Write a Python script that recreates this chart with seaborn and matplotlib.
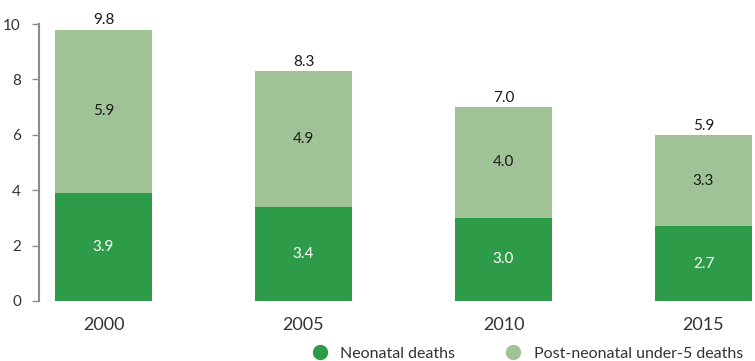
import matplotlib
matplotlib.use('Agg')
import matplotlib.pyplot as plt
import seaborn as sns
import pandas as pd
from matplotlib.lines import Line2D

years = ['2000', '2005', '2010', '2015']
neonatal = [3.9, 3.4, 3.0, 2.7]
post_neonatal = [5.9, 4.9, 4.0, 3.3]
totals = [9.8, 8.3, 7.0, 5.9]

color_neo = '#2e9b48'
color_post = '#9fc397'

sns.set_style('white')
plt.rcParams['font.family'] = ['Lato', 'DejaVu Sans']

df = pd.DataFrame({'year': years, 'neonatal': neonatal, 'post': post_neonatal})
df['stack'] = df['neonatal'] + df['post']

fig = plt.figure(figsize=(7.55, 3.61), dpi=100)
ax = fig.add_axes([39 / 755, 1 - 301 / 361, (752 - 39) / 755, (301 - 24) / 361])

# barra total (clara) debajo y neonatal (oscura) encima
sns.barplot(x='year', y='stack', data=df, color=color_post, width=0.485,
            saturation=1, linewidth=0, edgecolor='none', ax=ax)
sns.barplot(x='year', y='neonatal', data=df, color=color_neo, width=0.485,
            saturation=1, linewidth=0, edgecolor='none', ax=ax)

for i in range(len(years)):
    ax.text(i, neonatal[i] / 2, f'{neonatal[i]:.1f}', ha='center', va='center',
            color='white', fontsize=11)
    ax.text(i, neonatal[i] + post_neonatal[i] / 2, f'{post_neonatal[i]:.1f}',
            ha='center', va='center', color='#1a1a1a', fontsize=11)
    ax.text(i, df['stack'][i] + 0.08, f'{totals[i]:.1f}', ha='center',
            va='bottom', color='#1a1a1a', fontsize=11)

ax.set_xlim(-0.3225, 3.2425)
ax.set_ylim(0, 10)
ax.set_yticks([0, 2, 4, 6, 8, 10])
ax.set_xlabel('')
ax.set_ylabel('')
for s in ['top', 'right', 'bottom']:
    ax.spines[s].set_visible(False)
ax.spines['left'].set_color('#8a8a8a')
ax.spines['left'].set_linewidth(1.5)
ax.tick_params(axis='y', left=True, length=5, width=1, color='#8a8a8a',
               labelsize=11, labelcolor='#333333', pad=8)
ax.tick_params(axis='x', bottom=False, labelsize=13, labelcolor='#333333', pad=8)

handles = [
    Line2D([], [], marker='o', linestyle='', markersize=10, color=color_neo),
    Line2D([], [], marker='o', linestyle='', markersize=10, color=color_post),
]
fig.legend(handles, ['Neonatal deaths', 'Post-neonatal under-5 deaths'],
           loc='lower right', bbox_to_anchor=(1.003, -0.04), ncol=2, frameon=False,
           fontsize=11.5, handletextpad=0.3, columnspacing=2.6,
           labelcolor='#333333')

fig.savefig('out.png', dpi=100)
